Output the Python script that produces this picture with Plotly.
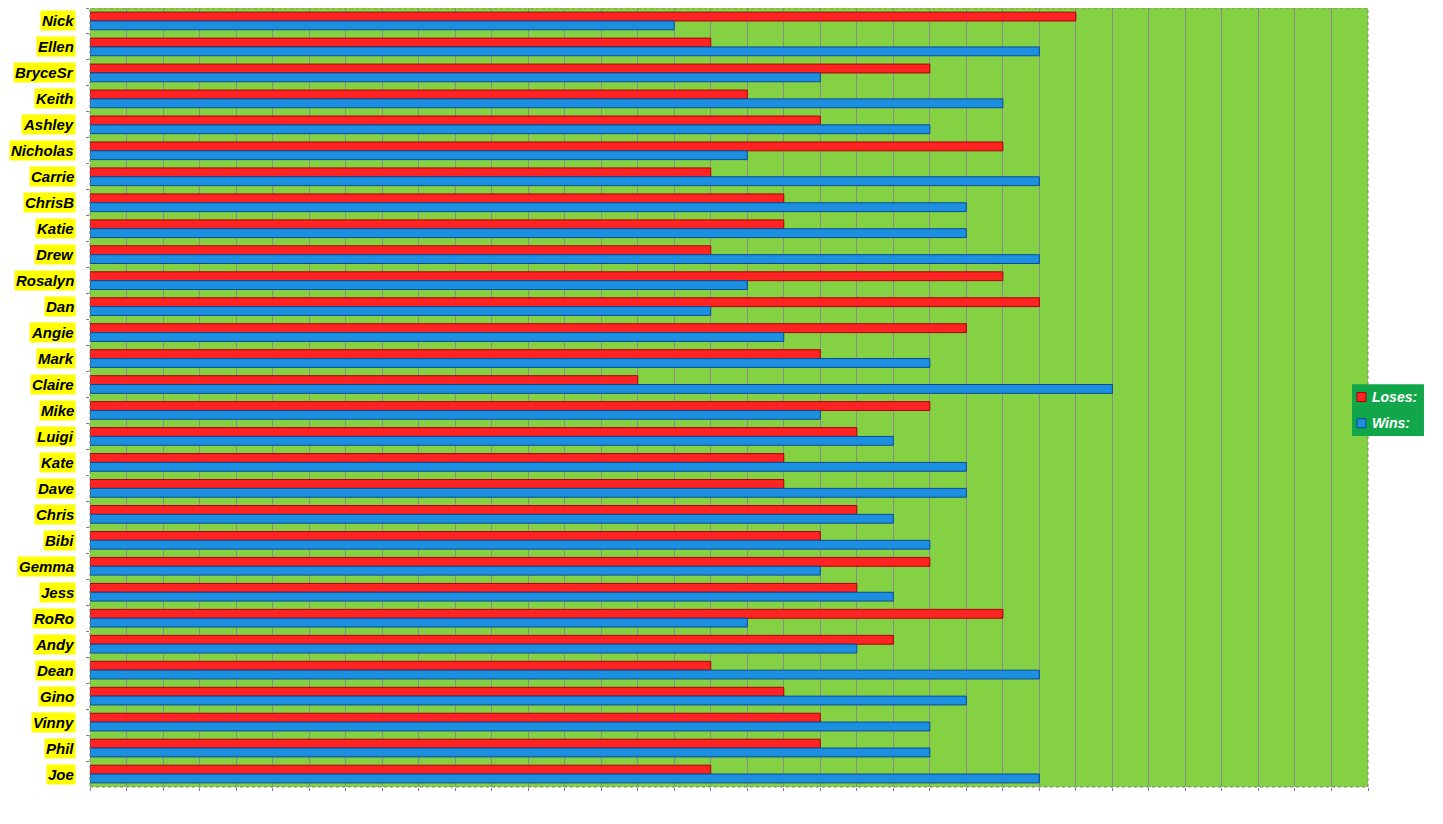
import plotly.graph_objects as go

players = ["Nick", "Ellen", "BryceSr", "Keith", "Ashley", "Nicholas", "Carrie", "ChrisB",
           "Katie", "Drew", "Rosalyn", "Dan", "Angie", "Mark", "Claire", "Mike", "Luigi",
           "Kate", "Dave", "Chris", "Bibi", "Gemma", "Jess", "RoRo", "Andy", "Dean", "Gino",
           "Vinny", "Phil", "Joe"]
loses = [27, 17, 23, 18, 20, 25, 17, 19, 19, 17, 25, 26, 24, 20, 15, 23, 21, 19, 19, 21,
         20, 23, 21, 25, 22, 17, 19, 20, 20, 17]
wins = [16, 26, 20, 25, 23, 18, 26, 24, 24, 26, 18, 17, 19, 23, 28, 20, 22, 24, 24, 22,
        23, 20, 22, 18, 21, 26, 24, 23, 23, 26]
series_names = ["Loses:", "Wins:"]
series_colors = ["#FF2424", "#1C8FE0"]
series_lines = ["#A80000", "#0A4A94"]

fig = go.Figure()
for name, vals, col, lc in zip(series_names, [loses, wins], series_colors, series_lines):
    fig.add_trace(go.Bar(
        y=players, x=vals, orientation="h", name=name,
        marker=dict(color=col, line=dict(color=lc, width=1)),
    ))

for p in players:
    fig.add_annotation(
        x=0, xref="paper", xanchor="right", xshift=-14,
        y=p, yref="y", yanchor="middle",
        text="<b><i>" + p + "</i></b>", showarrow=False,
        font=dict(family="Liberation Sans, Arial, sans-serif", size=15, color="black"),
        bgcolor="#FFFF00", borderpad=1,
    )

# plot frame (dotted)
fig.add_shape(type="rect", xref="paper", yref="paper", x0=0, x1=1, y0=0, y1=1,
              line=dict(color="#808080", width=1, dash="dot"), layer="above")

# custom legend box
lx0, lx1, ly0, ly1 = 0.9875, 1.0438, 0.4506, 0.517
fig.add_shape(type="rect", xref="paper", yref="paper", x0=lx0, x1=lx1, y0=ly0, y1=ly1,
              fillcolor="#12A64A", line=dict(color="#12A64A", width=0), layer="above")
for i, (name, col, lc) in enumerate(zip(series_names, series_colors, series_lines)):
    yc = 0.5006 - i * 0.0336
    fig.add_shape(type="rect", xref="paper", yref="paper",
                  x0=0.9914, x1=0.9984, y0=yc - 0.0058, y1=yc + 0.0058,
                  fillcolor=col, line=dict(color=lc, width=1), layer="above")
    fig.add_annotation(x=1.0016, xref="paper", xanchor="left",
                       y=yc, yref="paper", yanchor="middle", showarrow=False,
                       text="<b><i>" + name + "</i></b>",
                       font=dict(family="Liberation Sans, Arial, sans-serif", size=14,
                                 color="white"))

fig.update_layout(
    width=1443, height=824,
    margin=dict(l=82, r=83, t=0, b=45),
    paper_bgcolor="white",
    plot_bgcolor="#84D244",
    barmode="group",
    bargap=0.32,
    bargroupgap=0.0,
    showlegend=False,
    xaxis=dict(range=[0, 35], dtick=1, showgrid=True, gridcolor="#8C8C8C", gridwidth=1,
               showticklabels=False, ticks="outside", ticklen=3, tickcolor="#808080",
               zeroline=False, showline=False, fixedrange=True),
    yaxis=dict(autorange="reversed", showticklabels=False, showgrid=False,
               ticks="outside", ticklen=3, tickcolor="#808080", tickson="boundaries",
               zeroline=False, showline=False),
)

fig.write_html("out.html")
